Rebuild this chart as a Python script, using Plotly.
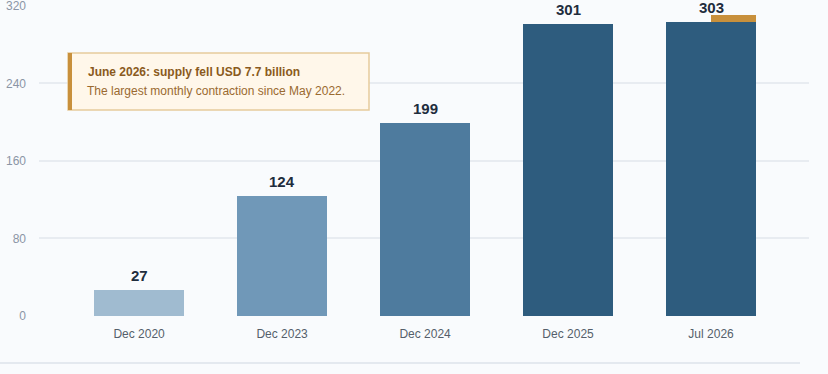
import plotly.graph_objects as go

categories = ["Dec 2020", "Dec 2023", "Dec 2024", "Dec 2025", "Jul 2026"]
values = [27, 124, 199, 301, 303]
bar_colors = ["#a0bbd0", "#7098b8", "#4e7b9e", "#2e5c7e", "#2e5c7e"]
drop_category = ["Jul 2026"]
drop_value = [7.7]
y_ticks = [0, 80, 160, 240, 320]
note_title = "June 2026: supply fell USD 7.7 billion"
note_body = "The largest monthly contraction since May 2022."

FONT = "Liberation Sans, Arial, Helvetica, sans-serif"
PH = 311.0  # plot height in px
PW = 770.0  # plot width in px


def py(p):
    return (316 - p) / PH


def px(p):
    return (p - 39) / PW


fig = go.Figure()
fig.add_trace(go.Bar(
    x=categories, y=values, marker=dict(color=bar_colors, line=dict(width=0)),
    width=0.63, hoverinfo="skip", showlegend=False,
))
fig.add_trace(go.Bar(
    x=drop_category, y=drop_value, base=[values[-1]],
    marker=dict(color="#c8903c", line=dict(width=0)),
    width=0.315, offset=0, hoverinfo="skip", showlegend=False,
))

for c, v in zip(categories, values):
    fig.add_annotation(x=c, y=v, text=f"<b>{v}</b>", showarrow=False,
                       yanchor="bottom", yshift=4,
                       font=dict(family=FONT, size=15, color="#1f2d3d"))

# note box
fig.add_shape(type="rect", xref="paper", yref="paper",
              x0=px(68), x1=px(369), y0=py(110), y1=py(53),
              fillcolor="#fff7ea", line=dict(color="#e6cb9c", width=1.5), layer="above")
fig.add_shape(type="rect", xref="paper", yref="paper",
              x0=px(68), x1=px(72), y0=py(110), y1=py(53),
              fillcolor="#c8903c", line=dict(width=0), layer="above")
fig.add_annotation(xref="paper", yref="paper", x=px(86), y=py(72),
                   text=f"<b>{note_title}</b>", showarrow=False, xanchor="left", yanchor="middle",
                   font=dict(family=FONT, size=12, color="#8a5a20"))
fig.add_annotation(xref="paper", yref="paper", x=px(85), y=py(91),
                   text=note_body, showarrow=False, xanchor="left", yanchor="middle",
                   font=dict(family=FONT, size=12, color="#9a6a30"))

# bottom separator line
fig.add_shape(type="line", xref="paper", yref="paper",
              x0=px(0), x1=px(800), y0=py(363), y1=py(363),
              line=dict(color="#e4e9ef", width=2))

fig.update_layout(
    width=828, height=374,
    margin=dict(l=39, r=19, t=5, b=58, autoexpand=False),
    paper_bgcolor="#f9fbfd", plot_bgcolor="#f9fbfd",
    barmode="overlay", bargap=0,
    font=dict(family=FONT),
    xaxis=dict(range=[-0.7, 4.685], showgrid=False, zeroline=False, showline=False,
               ticks="", ticklabelstandoff=9, automargin=False,
               tickfont=dict(family=FONT, size=12, color="#555f6b"), fixedrange=True),
    yaxis=dict(range=[0, 321], tickvals=y_ticks, showgrid=True, gridcolor="#e8ecf1", gridwidth=1.5,
               zeroline=False, showline=False, ticks="", ticklabelstandoff=12,
               ticklabeloverflow="allow", automargin=False,
               tickfont=dict(family=FONT, size=12, color="#8b95a5"), fixedrange=True),
)

fig.write_html("out.html")
